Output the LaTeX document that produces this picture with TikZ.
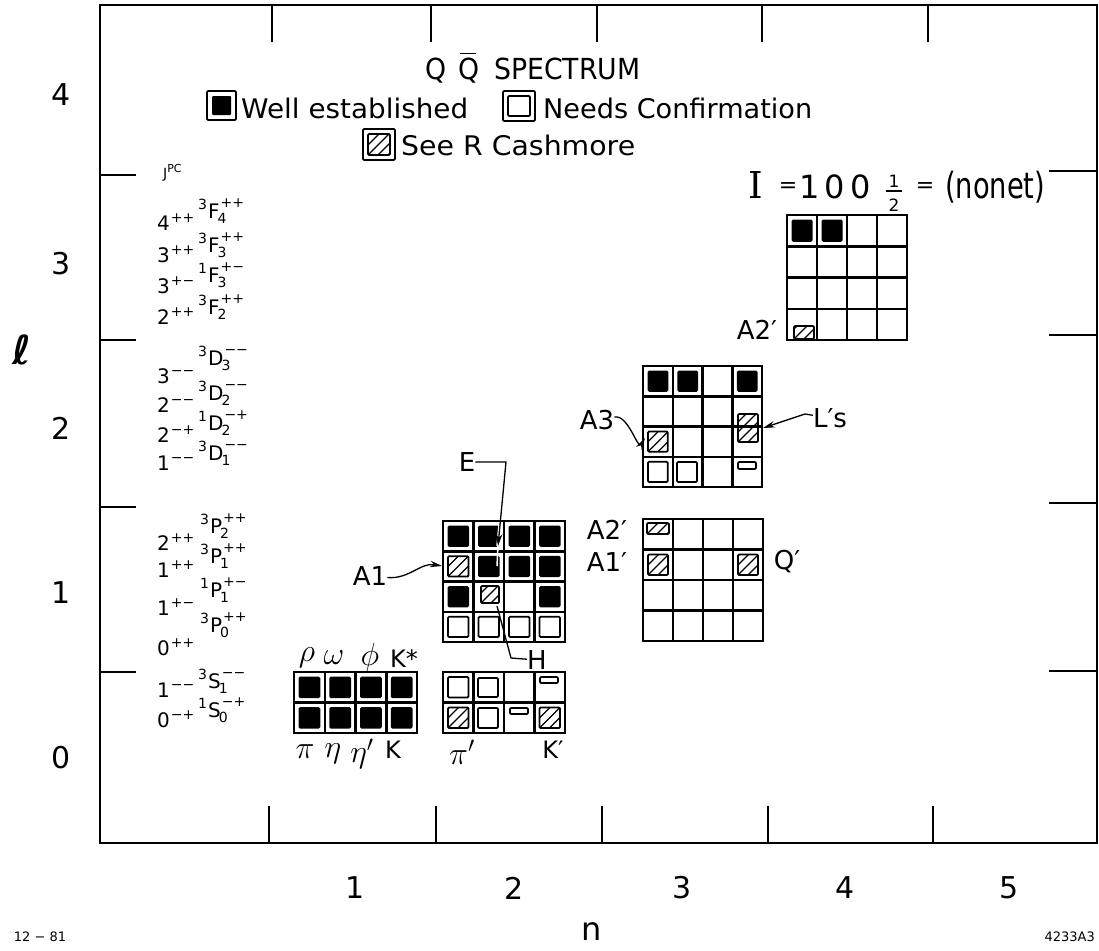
\RequirePackage{fix-cm}
\documentclass[tikz,border=0pt]{standalone}
\usepackage{fontspec}
\usepackage{graphicx}
\usetikzlibrary{arrows.meta}
\newfontfamily\plot{DejaVu Sans}
\newfontfamily\plotserif{DejaVu Serif}
\newcommand\fs[1]{\fontsize{#1}{#1}\selectfont}
\newcommand\wfit[2]{\resizebox{#1pt}{\height}{#2}}
\newcommand\jv[2]{#1\hspace{1pt}\raisebox{8pt}{\fs{14}#2}}
\newcommand\tm[4]{\raisebox{9pt}{\fs{14}#1}\hspace{1pt}#2\rlap{\hspace{-2pt}\raisebox{-5pt}{\fs{14}#3}}\hspace{1pt}\raisebox{11pt}{\fs{14}#4}}
\newcommand\qbar{\rlap{\hspace{2pt}\raisebox{25pt}{\rule{17pt}{1.5pt}}}Q}
\newcommand\cw{30}
\newcommand\ch{30}
\newcommand\cellF[2]{\fill[rounded corners=1.5pt] ({(#1-1)*\cw+4.5},{(#2-1)*\ch+4.5}) rectangle ({#1*\cw-4.5},{#2*\ch-4.5});}
\newcommand\cellO[2]{\draw[innerline] ({(#1-1)*\cw+5},{(#2-1)*\ch+5}) rectangle ({#1*\cw-5},{#2*\ch-5});}
\newcommand\hatchbox[4]{%
  \begin{scope}
    \clip ({#1},{#2}) rectangle ({#3},{#4});
    \foreach \k in {-3,...,3}{\draw[hatchline] ({#1+\k*10},{#4}) -- ++(45,-45);}
  \end{scope}
  \draw[innerline] ({#1},{#2}) rectangle ({#3},{#4});}
\newcommand\cellH[2]{\hatchbox{(#1-1)*\cw+5}{(#2-1)*\ch+5}{#1*\cw-5}{#2*\ch-5}}
\newcommand\gridlines[1]{%
  \foreach \i in {0,...,4}{\draw[gridline] ({\i*\cw},0) -- ({\i*\cw},{#1*\ch});}
  \foreach \j in {0,...,#1}{\draw[gridline] (0,{\j*\ch}) -- ({4*\cw},{\j*\ch});}}
\begin{document}
\begin{tikzpicture}[x=1pt,y=-1pt,
  frameline/.style={line width=1.8pt},
  gridline/.style={line width=2.5pt,line cap=rect},
  innerline/.style={line width=1.8pt,rounded corners=1.2pt},
  hatchline/.style={line width=1.2pt},
  tickline/.style={line width=1.5pt},
  lab/.style={font=\plot\fs{26},inner sep=0pt},
  axlab/.style={font=\plot\fs{30},inner sep=0pt},
  small/.style={font=\plot\fs{20},inner sep=0pt,anchor=base west},
  gk/.style={font=\fs{32},inner sep=0pt},
  leg/.style={font=\plot\fs{27},inner sep=0pt,anchor=base west},
  arr/.style={line width=1.3pt,-{Stealth[length=12pt,width=6.5pt]}},
  ptr/.style={line width=1.3pt},
]
\useasboundingbox (0,0) rectangle (1099,950);
\fill[white] (0,0) rectangle (1099,950);
% frame and ticks
\draw[frameline] (100,5) rectangle (1097,843);
\foreach \x in {272,431,597,762,928} \draw[tickline] (\x,5) -- (\x,42);
\foreach \x in {269,436,602,768,933} \draw[tickline] (\x,843) -- (\x,806);
\foreach \y in {175,340,507,672} \draw[tickline] (100,\y) -- (136,\y);
\foreach \y in {171,335,503,671} \draw[tickline] (1097,\y) -- (1049,\y);
% axis labels
\node[axlab] (y4) at (61,95) {4};
\node[axlab] (y3) at (61,264) {3};
\node[axlab] (y2) at (61,428) {2};
\node[axlab] (y1) at (61,593) {1};
\node[axlab] (y0) at (61,758) {0};
\node[font=\plot\bfseries\itshape\fs{40},inner sep=0pt] (ell) at (22,350) {ℓ};
\node[axlab] (x1) at (355,888) {1};
\node[axlab] (x2) at (514,888) {2};
\node[axlab] (x3) at (682,888) {3};
\node[axlab] (x4) at (845,888) {4};
\node[axlab] (x5) at (1009,888) {5};
\node[font=\plot\fs{32},inner sep=0pt] (nlab) at (592,932) {n};
\node[font=\plot\fs{13},inner sep=0pt] (date) at (40,937) {12 − 81};
\node[font=\plot\fs{13},inner sep=0pt,anchor=east] (fig) at (1095,937) {4233A3};
% legend
\node[leg,font=\plot\fs{29}] (title) at (425,79) {\wfit{215}{Q\hspace{0.45em}\qbar\hspace{0.55em}SPECTRUM}};
\draw[innerline] (207,91) rectangle (236,120);
\fill[rounded corners=1pt] (212,96) rectangle (231,115);
\node[leg] (well) at (241,118) {\wfit{227}{Well established}};
\draw[innerline] (503,91) rectangle (535,121);
\draw[innerline] (508,96) rectangle (530,116);
\node[leg] (needs) at (543,118) {\wfit{269}{Needs Confirmation}};
\draw[innerline] (363,129) rectangle (395,160);
\hatchbox{368}{134}{390}{155}
\node[leg] (see) at (401,155) {\wfit{234}{See R Cashmore}};
% isospin line
\node[font=\plotserif\fs{37},inner sep=0pt,anchor=base west] (iI) at (748,198) {I};
\node[font=\plot\fs{22},inner sep=0pt] (ieq1) at (788,188) {=};
\node[font=\plot\fs{32},inner sep=0pt,anchor=base] (i1) at (810,198) {1};
\node[font=\plot\fs{32},inner sep=0pt,anchor=base] (i0a) at (835,198) {0};
\node[font=\plot\fs{32},inner sep=0pt,anchor=base] (i0b) at (861,198) {0};
\node[font=\plot\fs{17},inner sep=0pt,anchor=base] (hnum) at (894,187) {1};
\draw[line width=1.4pt] (886,191) -- (902,191);
\node[font=\plot\fs{17},inner sep=0pt,anchor=base] (hden) at (894,211) {2};
\node[font=\plot\fs{22},inner sep=0pt] (ieq2) at (925,188) {=};
\node[font=\plot\fs{36},inner sep=0pt,anchor=base west] (nonet) at (945,198) {\wfit{100}{(nonet)}};
% J^PC column
\node[small,font=\plot\fs{14}] (jpc) at (163,178) {J\raisebox{6pt}{\fs{11}PC}};
\node[small] (j1) at (157,230) {\jv{4}{++}};
\node[small] (t1) at (198,218) {\tm{3}{F}{4}{++}};
\node[small] (j2) at (157,262) {\jv{3}{++}};
\node[small] (t2) at (198,252) {\tm{3}{F}{3}{++}};
\node[small] (j3) at (157,293) {\jv{3}{+−}};
\node[small] (t3) at (198,282) {\tm{1}{F}{3}{+−}};
\node[small] (j4) at (157,324) {\jv{2}{++}};
\node[small] (t4) at (198,314) {\tm{3}{F}{2}{++}};
\node[small] (j5) at (157,383) {\jv{3}{−−}};
\node[small] (t5) at (198,365) {\tm{3}{D}{3}{−−}};
\node[small] (j6) at (157,412) {\jv{2}{−−}};
\node[small] (t6) at (198,400) {\tm{3}{D}{2}{−−}};
\node[small] (j7) at (157,442) {\jv{2}{−+}};
\node[small] (t7) at (198,430) {\tm{1}{D}{2}{−+}};
\node[small] (j8) at (157,470) {\jv{1}{−−}};
\node[small] (t8) at (198,460) {\tm{3}{D}{1}{−−}};
\node[small] (j9) at (157,550) {\jv{2}{++}};
\node[small] (t9) at (200,533) {\tm{3}{P}{2}{++}};
\node[small] (j10) at (157,577) {\jv{1}{++}};
\node[small] (t10) at (200,563) {\tm{3}{P}{1}{++}};
\node[small] (j11) at (157,615) {\jv{1}{+−}};
\node[small] (t11) at (200,597) {\tm{1}{P}{1}{+−}};
\node[small] (j12) at (157,655) {\jv{0}{++}};
\node[small] (t12) at (200,632) {\tm{3}{P}{0}{++}};
\node[small] (j13) at (157,697) {\jv{1}{−−}};
\node[small] (t13) at (198,688) {\tm{3}{S}{1}{−−}};
\node[small] (j14) at (157,727) {\jv{0}{−+}};
\node[small] (t14) at (198,717) {\tm{1}{S}{0}{−+}};
% Grid A (n=1, l=0)
\begin{scope}[shift={(294,672)}]
\def\cw{30.75}\def\ch{30.5}
\foreach \c in {1,...,4}{\foreach \r in {1,2}{\cellF{\c}{\r}}}
\gridlines{2}
\end{scope}
% Grid B (n=2, l=0)
\begin{scope}[shift={(443,672)}]
\def\cw{30.5}\def\ch{30.5}
\cellO{1}{1}
\draw[innerline] (35,6) rectangle (55,25);
\draw[innerline] (97,5) rectangle (115,11);
\cellH{1}{2}
\draw[innerline] (35,36) rectangle (55,56);
\draw[innerline] (67,36) rectangle (85,42);
\cellH{4}{2}
\gridlines{2}
\end{scope}
% Grid C (n=2, l=1)
\begin{scope}[shift={(443,521)}]
\def\cw{30.5}\def\ch{30.25}
\cellF{1}{1}\cellF{2}{1}\cellF{3}{1}\cellF{4}{1}
\cellH{1}{2}\cellF{2}{2}\cellF{3}{2}\cellF{4}{2}
\cellF{1}{3}\hatchbox{38}{65}{56}{82}\cellF{4}{3}
\cellO{1}{4}\cellO{2}{4}\cellO{3}{4}\cellO{4}{4}
\gridlines{4}
\end{scope}
% Grid D (n=3, l=1)
\begin{scope}[shift={(643,519)}]
\def\cw{30}\def\ch{30.5}
\hatchbox{4}{4}{26}{15}
\cellH{1}{2}\cellH{4}{2}
\gridlines{4}
\end{scope}
% Grid E (n=3, l=2)
\begin{scope}[shift={(643,366)}]
\def\cw{29.75}\def\ch{30.25}
\cellF{1}{1}\cellF{2}{1}\cellF{4}{1}
\hatchbox{95}{48}{115}{76}
\cellH{1}{3}
\cellO{1}{4}
\draw[innerline] (34,96) rectangle (54,116);
\draw[innerline] (95,96) rectangle (113,103);
\gridlines{4}
\end{scope}
% Grid F (n=4, l=3)
\begin{scope}[shift={(787,215)}]
\def\cw{30}\def\ch{31.25}
\cellF{1}{1}\cellF{2}{1}
\hatchbox{7}{111}{27}{124}
\gridlines{4}
\end{scope}
% meson labels
\node[gk] (rho) at (307,658) {$\rho$};
\node[gk] (omega) at (334,658) {$\omega$};
\node[gk] (phi) at (370,657) {$\phi$};
\node[lab,font=\plot\fs{24}] (kstar) at (404,659) {K*};
\node[gk] (pi) at (305,752) {$\pi$};
\node[gk] (eta) at (333,754) {$\eta$};
\node[gk] (etap) at (362,754) {$\eta'$};
\node[lab,font=\plot\fs{24}] (kk) at (393,750) {K};
\node[gk] (pip) at (462,752) {$\pi'$};
\node[lab,font=\plot\fs{24}] (kp) at (553,750) {K′};
% pointers
\node[lab] (A1) at (370,576) {A1};
\coordinate (a1t) at (442,566);
\draw[arr] (A1) to[out=-5,in=170] (a1t);
\node[lab] (E) at (467,462) {E};
\coordinate (ek) at (506,462);
\coordinate (et) at (498,546);
\draw[white,line width=3.5pt] (500.3,522) -- (et);
\draw[white,line width=1.5pt] (et) -- (497,566);
\draw[arr] (E) -- (ek) -- (et);
\node[lab] (H) at (537,660) {H};
\coordinate (hk) at (511,658);
\coordinate (ht) at (497,606);
\draw[ptr] (H) -- (hk) -- (ht);
\node[lab] (A3) at (597,420) {A3};
\coordinate (a3t) at (645,438);
\draw[arr] (A3) to[out=10,in=-120] (a3t);
\node[lab] (Ls) at (830,418) {L′s};
\coordinate (lsk) at (805,414);
\coordinate (lst) at (763,428);
\draw[arr] (Ls) -- (lsk) -- (lst);
\node[lab] (A2p) at (607,530) {A2′};
\node[lab] (A1p) at (607,562) {A1′};
\node[lab] (Qp) at (787,562) {Q′};
\node[lab] (A2pp) at (757,330) {A2′};
\end{tikzpicture}
\end{document}
